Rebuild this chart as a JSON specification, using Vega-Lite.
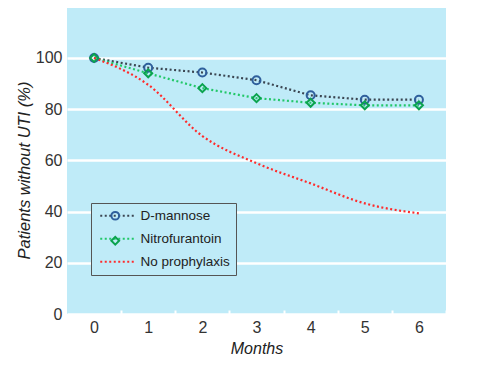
{
  "$schema": "https://vega.github.io/schema/vega-lite/v6.json",
  "width": 379,
  "height": 306,
  "autosize": "none",
  "padding": {"left": 67, "top": 8, "right": 48, "bottom": 62},
  "background": "white",
  "view": {"fill": "#bfebf8", "stroke": null},
  "config": {
    "font": "Liberation Sans",
    "axis": {"labelFont": "Liberation Sans", "titleFont": "Liberation Sans", "labelColor": "#333", "titleColor": "#222"}
  },
  "data": {"values": [
    {"month": 0, "pct": 100, "series": "D-mannose"},
    {"month": 1, "pct": 96.2, "series": "D-mannose"},
    {"month": 2, "pct": 94.3, "series": "D-mannose"},
    {"month": 3, "pct": 91.3, "series": "D-mannose"},
    {"month": 4, "pct": 85.4, "series": "D-mannose"},
    {"month": 5, "pct": 83.7, "series": "D-mannose"},
    {"month": 6, "pct": 83.7, "series": "D-mannose"},
    {"month": 0, "pct": 100, "series": "Nitrofurantoin"},
    {"month": 1, "pct": 94, "series": "Nitrofurantoin"},
    {"month": 2, "pct": 88.2, "series": "Nitrofurantoin"},
    {"month": 3, "pct": 84.3, "series": "Nitrofurantoin"},
    {"month": 4, "pct": 82.5, "series": "Nitrofurantoin"},
    {"month": 5, "pct": 81.5, "series": "Nitrofurantoin"},
    {"month": 6, "pct": 81.5, "series": "Nitrofurantoin"},
    {"month": 0, "pct": 100, "series": "No prophylaxis"},
    {"month": 1, "pct": 89.5, "series": "No prophylaxis"},
    {"month": 2, "pct": 69.5, "series": "No prophylaxis"},
    {"month": 3, "pct": 58.9, "series": "No prophylaxis"},
    {"month": 4, "pct": 51, "series": "No prophylaxis"},
    {"month": 5, "pct": 43.2, "series": "No prophylaxis"},
    {"month": 6, "pct": 39.3, "series": "No prophylaxis"}
  ]},
  "encoding": {
    "x": {
      "field": "month", "type": "quantitative",
      "scale": {"domain": [-0.5, 6.5], "nice": false, "zero": false},
      "axis": {
        "values": [0, 1, 2, 3, 4, 5, 6], "format": "d", "grid": false, "domain": false,
        "tickColor": "white", "tickWidth": 2, "tickSize": -4, "tickOffset": 27, "labelOffset": -27,
        "labelFontSize": 16, "labelPadding": 9, "title": "Months", "titleFontSize": 16,
        "titleFontStyle": "italic", "titleFontWeight": "normal", "titlePadding": 5
      }
    },
    "y": {
      "field": "pct", "type": "quantitative",
      "scale": {"domain": [0, 119.5], "nice": false},
      "axis": {
        "values": [0, 20, 40, 60, 80, 100], "grid": true, "gridColor": "white", "gridWidth": 2.5, "gridOpacity": 1,
        "domain": false, "ticks": false, "labelFontSize": 16, "labelPadding": 5,
        "title": "Patients without UTI (%)", "titleFontSize": 16.5, "titleFontStyle": "italic",
        "titleFontWeight": "normal", "titlePadding": 3, "titleY": 162
      }
    }
  },
  "layer": [
    {
      "transform": [{"filter": "datum.series !== 'No prophylaxis'"}],
      "mark": {"type": "line", "strokeDash": [2, 2.5], "strokeWidth": 2.2, "interpolate": "linear"},
      "encoding": {
        "color": {
          "field": "series", "type": "nominal",
          "scale": {"domain": ["D-mannose", "Nitrofurantoin", "No prophylaxis"], "range": ["#3b4652", "#22c768", "#ff2b2b"]},
          "legend": {
            "title": null, "orient": "none", "legendX": 24, "legendY": 195,
            "symbolType": "M-1.17,0H10.3", "symbolSize": 36, "symbolStrokeWidth": 2.2, "symbolDash": [2, 2.5],
            "labelFontSize": 13.5, "labelColor": "#222", "labelFont": "Liberation Sans", "labelOffset": 30,
            "rowPadding": 8, "padding": 6, "fillColor": "#bfebf8", "strokeColor": "#555",
            "labelLimit": 200
          }
        }
      }
    },
    {
      "transform": [{"filter": "datum.series === 'No prophylaxis'"}],
      "mark": {"type": "line", "strokeDash": [2, 2.5], "strokeWidth": 2.2, "interpolate": "monotone"},
      "encoding": {"color": {"field": "series", "type": "nominal"}}
    },
    {
      "transform": [{"filter": "datum.series !== 'No prophylaxis'"}],
      "mark": {"type": "point", "filled": false, "strokeWidth": 2, "size": 64, "opacity": 1},
      "encoding": {
        "shape": {
          "field": "series", "type": "nominal",
          "scale": {"domain": ["D-mannose", "Nitrofurantoin", "No prophylaxis", " "], "range": ["circle", "diamond", "M0,0", "M0,0"]},
          "legend": {
            "title": null, "orient": "none", "legendX": 35.5, "legendY": 195,
            "labelFontSize": 13.5, "labelExpr": "''", "rowPadding": 8, "padding": 6, "symbolStrokeWidth": 2, "symbolSize": 60
          }
        },
        "stroke": {
          "field": "series", "type": "nominal",
          "scale": {"domain": ["D-mannose", "Nitrofurantoin", "No prophylaxis", " "], "range": ["#2f5f9c", "#0ba34e", "#ff2b2b", "#ff2b2b"]},
          "legend": {
            "title": null, "orient": "none", "legendX": 35.5, "legendY": 195,
            "labelFontSize": 13.5, "labelExpr": "''", "rowPadding": 8, "padding": 6, "symbolStrokeWidth": 2, "symbolSize": 60
          }
        }
      }
    }
  ]
}
